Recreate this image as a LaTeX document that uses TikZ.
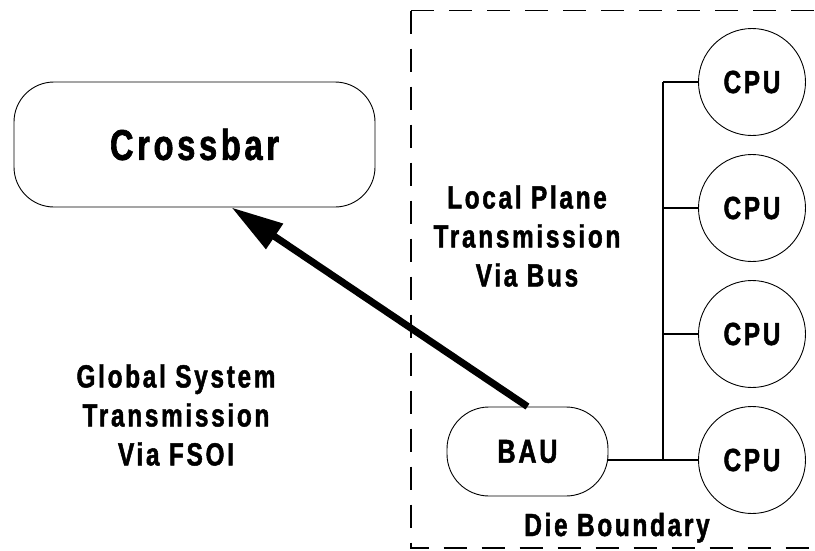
\documentclass[tikz,border=0pt]{standalone}
\usepackage{fontspec}
\setmainfont{Liberation Sans}[FakeStretch=0.76,LetterSpace=8.5,FakeBold=1.5]
\usetikzlibrary{arrows.meta,shapes.geometric}

\begin{document}
\begin{tikzpicture}[x=1pt,y=-1pt,
  lbl/.style={font=\bfseries\fontsize{32}{39}\selectfont, align=center, inner sep=0pt},
  unitbox/.style={draw, line width=0.9pt, rounded corners=#1, inner sep=0pt},
  cpunode/.style={draw, circle, line width=0.9pt, minimum size=107pt, inner sep=0pt,
                  font=\bfseries\fontsize{32}{36}\selectfont},
  bus/.style={line width=1.6pt},
  boundary/.style={line width=1.8pt, dash pattern=on 23pt off 15pt},
  fsoi/.style={line width=7pt, -{Triangle[length=52pt,width=29pt]}}]

  \useasboundingbox[fill=white] (0,0) rectangle (815,550);

  % die boundary, runs off the right edge
  \begin{scope}
    \clip (0,0) rectangle (815,550);
    \draw[boundary] (411,10.5) -- (840,10.5);
    \draw[boundary] (411,10.5) -- (411,548) -- (840,548);
  \end{scope}

  % crossbar and bus arbitration unit
  \node[unitbox=40pt, minimum width=361pt, minimum height=125pt,
        font=\bfseries\fontsize{43}{48}\selectfont] (cb) at (194.5,144.5) {Crossbar};
  \node[unitbox=42pt, minimum width=161pt, minimum height=89pt,
        font=\bfseries\fontsize{33}{36}\selectfont] (bau) at (527.5,451.5) {BAU};

  % processors
  \node[cpunode] (cpu1) at (752,82) {CPU};
  \node[cpunode] (cpu2) at (752,208) {CPU};
  \node[cpunode] (cpu3) at (752,334) {CPU};
  \node[cpunode] (cpu4) at (752,460) {CPU};

  % local bus
  \coordinate (jtop) at (663,82);
  \coordinate (jbot) at (663,460);
  \draw[bus] (jtop) -- (jbot);
  \draw[bus] (jtop) -- (cpu1.west);
  \draw[bus] (jtop |- cpu2) -- (cpu2.west);
  \draw[bus] (jtop |- cpu3) -- (cpu3.west);
  \draw[bus] (bau.east |- cpu4) -- (cpu4.west);

  % free-space optical link to the crossbar
  \coordinate (tip) at ([xshift=37pt]cb.south);
  \draw[fsoi] (bau.north) -- (tip);

  % labels
  \node[lbl] (local) at (527,236) {Local Plane\\Transmission\\Via Bus};
  \node[lbl] (global) at (176,415) {Global System\\Transmission\\Via FSOI};
  \node[lbl, anchor=base] (die) at (617,536) {Die Boundary};
\end{tikzpicture}
\end{document}
